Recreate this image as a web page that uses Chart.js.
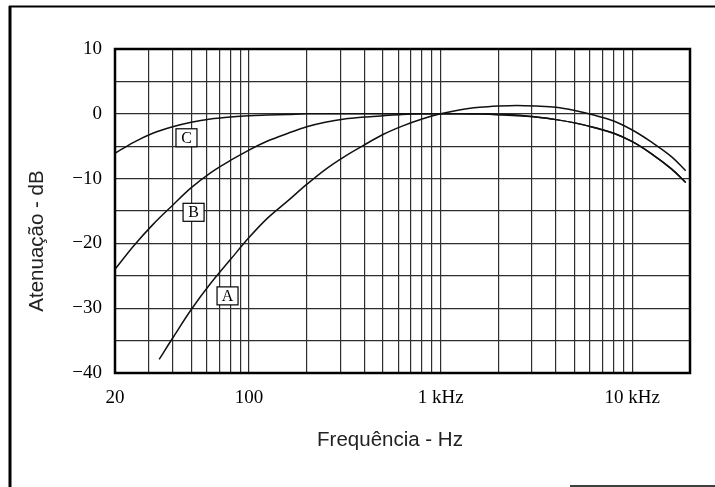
<!DOCTYPE html>
<html>
<head>
<meta charset="utf-8">
<script src="https://cdn.jsdelivr.net/npm/chart.js@4.4.0/dist/chart.umd.min.js"></script>
<style>
  html, body { margin: 0; padding: 0; background: #fff; }
  #wrap { position: relative; width: 715px; height: 487px; }
</style>
</head>
<body>
<div id="wrap"><canvas id="curvas" width="715" height="487"></canvas></div>
<script>
// frequências (Hz) e atenuações (dB)
const freqs = [20, 25, 31.5, 40, 50, 63, 80, 100, 125, 160, 200, 250, 315, 400, 500, 630, 800,
  1000, 1250, 1600, 2000, 2500, 3150, 4000, 5000, 6300, 8000, 10000, 12500, 16000, 19000];
const freqsA = [34, 40, 50, 63, 80, 100, 125, 160, 200, 250, 315, 400, 500, 630, 800,
  1000, 1250, 1600, 2000, 2500, 3150, 4000, 5000, 6300, 8000, 10000, 12500, 16000, 19000];
const curvaA = [-37.9, -34.6, -30.2, -26.2, -22.5, -19.1, -16.1, -13.4, -10.9, -8.6, -6.6,
  -4.8, -3.2, -1.9, -0.8, 0, 0.6, 1.0, 1.2, 1.3, 1.2, 1.0, 0.5, -0.2, -1.1, -2.5, -4.3, -6.6, -8.8];
const curvaB = [-24.0, -20.4, -17.1, -14.1, -11.4, -9.1, -7.2, -5.6, -4.2, -3.0, -2.0, -1.3, -0.8,
  -0.5, -0.3, -0.1, 0, 0, 0, 0, -0.1, -0.2, -0.5, -0.9, -1.4, -2.1, -3.0, -4.3, -6.1, -8.5, -10.6];
const curvaC = [-6.1, -4.4, -3.0, -2.0, -1.3, -0.8, -0.5, -0.3, -0.2, -0.1, 0, 0, 0,
  0, 0, 0, 0, 0, 0, -0.05, -0.15, -0.3, -0.5, -0.9, -1.4, -2.1, -3.0, -4.3, -6.1, -8.5, -10.6];

// rótulos das curvas (posição em Hz / dB)
const rotulos = ['A', 'B', 'C'];
const rotuloFreq = [77.3, 51.4, 47.2];
const rotuloDb = [-28.1, -15.2, -3.7];

// marcas dos eixos
const xTickLabels = { 20: '20', 100: '100', 1000: '1 kHz', 10000: '10 kHz' };
const yMin = -40, yMax = 10;

const gridFreqs = [];
for (let dec = 10; dec <= 10000; dec *= 10) {
  for (let m = 1; m <= 9; m++) {
    const f = m * dec;
    if (f >= 20 && f <= 20000) gridFreqs.push(f);
  }
}
gridFreqs.push(20000);

function pontos(fs, vals) {
  return fs.map((f, i) => ({ x: f, y: vals[i] }));
}

const serif = '"Liberation Serif", "Times New Roman", serif';
const sans = '"Liberation Sans", Arial, sans-serif';

// moldura, títulos e caixas dos rótulos
const extras = {
  id: 'extras',
  afterDraw(chart) {
    const ctx = chart.ctx;
    const a = chart.chartArea;
    const sx = chart.scales.x, sy = chart.scales.y;
    ctx.save();

    // moldura externa
    ctx.strokeStyle = '#000';
    ctx.lineWidth = 3;
    ctx.beginPath();
    ctx.moveTo(10, 487);
    ctx.lineTo(10, 6);
    ctx.stroke();
    ctx.lineWidth = 2;
    ctx.beginPath();
    ctx.moveTo(9, 6.5);
    ctx.lineTo(715, 6.5);
    ctx.stroke();
    ctx.lineWidth = 1.5;
    ctx.beginPath();
    ctx.moveTo(570, 486);
    ctx.lineTo(715, 486);
    ctx.stroke();

    // borda do gráfico
    ctx.lineWidth = 2.5;
    ctx.strokeRect(a.left, a.top, a.right - a.left, a.bottom - a.top);

    // títulos dos eixos
    ctx.fillStyle = '#222';
    ctx.font = '20.5px ' + sans;
    ctx.textAlign = 'center';
    ctx.textBaseline = 'middle';
    ctx.fillText('Frequência - Hz', 390, 440);
    ctx.translate(37, 241);
    ctx.rotate(-Math.PI / 2);
    ctx.fillText('Atenuação - dB', 0, 0);
    ctx.setTransform(1, 0, 0, 1, 0, 0);

    // caixas A, B, C
    ctx.font = '16px ' + serif;
    rotulos.forEach((t, i) => {
      const px = sx.getPixelForValue(rotuloFreq[i]);
      const py = sy.getPixelForValue(rotuloDb[i]);
      ctx.fillStyle = '#fff';
      ctx.fillRect(px - 10.5, py - 9, 21, 18);
      ctx.strokeStyle = '#000';
      ctx.lineWidth = 1.2;
      ctx.strokeRect(px - 10.5, py - 9, 21, 18);
      ctx.fillStyle = '#000';
      ctx.fillText(t, px, py + 1);
    });
    ctx.restore();
  }
};

const linha = { borderColor: '#111', borderWidth: 1.5, pointRadius: 0, tension: 0.35, fill: false };

new Chart(document.getElementById('curvas'), {
  type: 'line',
  data: {
    datasets: [
      Object.assign({ label: 'A', data: pontos(freqsA, curvaA) }, linha),
      Object.assign({ label: 'B', data: pontos(freqs, curvaB) }, linha),
      Object.assign({ label: 'C', data: pontos(freqs, curvaC) }, linha)
    ]
  },
  options: {
    responsive: false,
    animation: false,
    devicePixelRatio: 1,
    layout: { padding: { left: 0, top: 49, right: 25, bottom: 0 } },
    plugins: { legend: { display: false }, tooltip: { enabled: false } },
    scales: {
      x: {
        type: 'logarithmic',
        min: 20,
        max: 20000,
        afterBuildTicks: s => { s.ticks = gridFreqs.map(v => ({ value: v })); },
        afterFit: s => { s.height = 114; },
        grid: { color: '#2e2e2e', lineWidth: 1.2, drawTicks: false },
        border: { display: false },
        ticks: {
          autoSkip: false,
          maxRotation: 0,
          padding: 14,
          color: '#000',
          font: { family: serif, size: 19 },
          callback: v => xTickLabels[v] || ''
        }
      },
      y: {
        min: yMin,
        max: yMax,
        afterFit: s => { s.width = 115; },
        grid: { color: '#2e2e2e', lineWidth: 1.2, drawTicks: false },
        border: { display: false },
        ticks: {
          stepSize: 5,
          padding: 13,
          color: '#000',
          font: { family: serif, size: 19 },
          callback: v => (v % 10 === 0 ? (v < 0 ? '\u2212' + Math.abs(v) : String(v)) : '')
        }
      }
    }
  },
  plugins: [extras]
});
</script>
</body>
</html>
